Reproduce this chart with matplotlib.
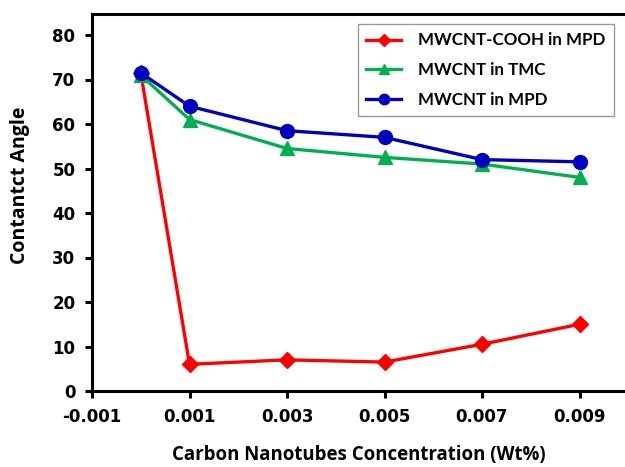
import matplotlib
matplotlib.use("Agg")
import matplotlib.pyplot as plt
import numpy as np

x = [0.0, 0.001, 0.003, 0.005, 0.007, 0.009]
cooh_mpd = [71.5, 6.0, 7.0, 6.5, 10.5, 15.0]
mwcnt_tmc = [71.0, 61.0, 54.5, 52.5, 51.0, 48.0]
mwcnt_mpd = [71.5, 64.0, 58.5, 57.0, 52.0, 51.5]
xticks = [-0.001, 0.001, 0.003, 0.005, 0.007, 0.009]
xticklabels = ["-0.001", "0.001", "0.003", "0.005", "0.007", "0.009"]
yticks = [0, 10, 20, 30, 40, 50, 60, 70, 80]

fig = plt.figure(figsize=(6.25, 4.67), dpi=100)
ax = fig.add_axes([92/625, 76/467, 1 - 92/625, 377/467])

lw = 2.4
ax.plot(x, cooh_mpd, color="#FF0000", lw=lw, marker="D", ms=8, label="MWCNT-COOH in MPD", zorder=3)
ax.plot(x, mwcnt_tmc, color="#00B050", lw=lw, marker="^", ms=10, label="MWCNT in TMC", zorder=4)
ax.plot(x, mwcnt_mpd, color="#0000C0", lw=lw, marker="o", ms=10, label="MWCNT in MPD", zorder=5)

ax.set_xlim(-0.001, -0.001 + (625 - 92) / 48.75 * 0.001)
ax.set_ylim(0, 377 / 4.45)
ax.set_xticks(xticks)
ax.set_xticklabels(xticklabels)
ax.set_yticks(yticks)

for s in ["left", "bottom", "top"]:
    ax.spines[s].set_linewidth(2.2)
ax.spines["right"].set_visible(False)
ax.tick_params(axis="both", direction="out", length=5, width=2.2)
ax.tick_params(axis="x", pad=7)
ax.tick_params(axis="y", pad=7)
for lab in ax.get_xticklabels() + ax.get_yticklabels():
    lab.set_fontfamily("DejaVu Sans")
    lab.set_fontweight("bold")
    lab.set_fontsize(12)

ax.set_xlabel("Carbon Nanotubes Concentration (Wt%)", fontfamily="Open Sans", fontweight="bold", fontsize=13.4, labelpad=14)
ax.set_ylabel("Contantct Angle", fontfamily="Open Sans", fontweight="bold", fontsize=14,
              va="center", ha="center")
ax.yaxis.set_label_coords((20 - 92) / 533, (391 - 185) / 377)

leg = ax.legend(loc="upper right", prop={"family": "Lato", "weight": "bold", "size": 12.2},
                frameon=True, fancybox=False, edgecolor="#808080", handlelength=2.05,
                handletextpad=1.0, borderpad=0.5, labelspacing=0.8, markerscale=0.75,
                borderaxespad=0)
leg.get_frame().set_linewidth(1.0)
leg.set_bbox_to_anchor((614/625, 1 - 24/467), transform=fig.transFigure)

fig.savefig("out.png", dpi=100)
